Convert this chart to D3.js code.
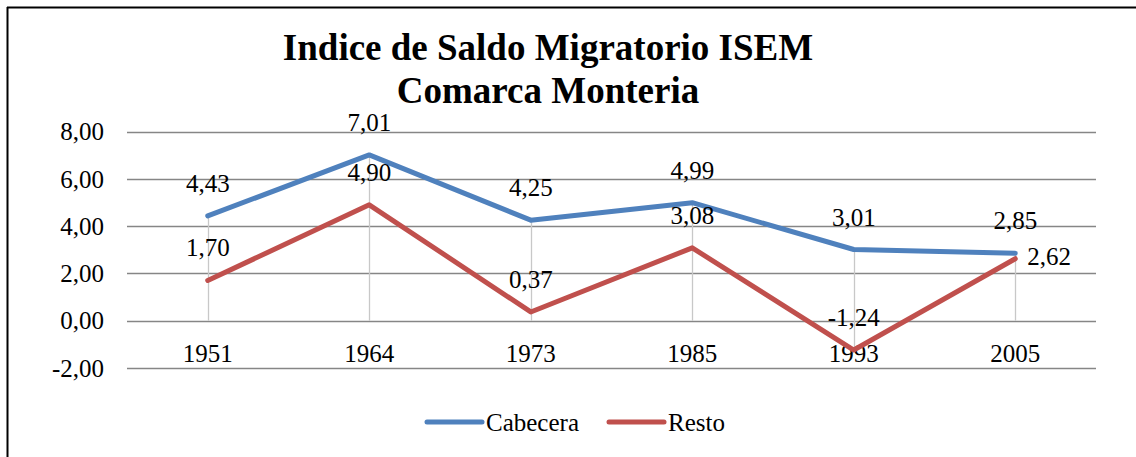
<!DOCTYPE html>
<html>
<head>
<meta charset="utf-8">
<script src="https://d3js.org/d3.v7.min.js"></script>
<style>
  body { margin: 0; background: #fff; }
  svg text { font-family: "Liberation Serif", "Times New Roman", serif; fill: #000; }
</style>
</head>
<body>
<div id="chart"></div>
<script>
// data
var years = ["1951", "1964", "1973", "1985", "1993", "2005"];
var cabecera = [4.43, 7.01, 4.25, 4.99, 3.01, 2.85];
var resto = [1.70, 4.90, 0.37, 3.08, -1.24, 2.62];
var yTicks = [-2, 0, 2, 4, 6, 8];
var titleLines = ["Indice de Saldo Migratorio ISEM", "Comarca Monteria"];

var width = 1136, height = 457;
var plot = { left: 127, right: 1096, top: 131.5, bottom: 368 };

var svg = d3.select("#chart").append("svg")
    .attr("width", width)
    .attr("height", height);

// chart frame (only top and left visible in crop)
svg.append("line").attr("x1", 7).attr("y1", 7.5).attr("x2", width).attr("y2", 7.5)
    .attr("stroke", "#000").attr("stroke-width", 2);
svg.append("line").attr("x1", 7.5).attr("y1", 7).attr("x2", 7.5).attr("y2", height)
    .attr("stroke", "#000").attr("stroke-width", 2);

var x = d3.scaleBand().domain(years).range([plot.left, plot.right]);
var y = d3.scaleLinear().domain([-2, 8]).range([plot.bottom, plot.top]);
var cx = function (d) { return x(d) + x.bandwidth() / 2; };

// title
svg.append("text")
    .attr("x", 548).attr("y", 60)
    .attr("text-anchor", "middle")
    .style("font-size", "37px").style("font-weight", "bold")
    .selectAll("tspan").data(titleLines).enter().append("tspan")
    .attr("x", 548).attr("dy", function (d, i) { return i ? 43 : 0; })
    .text(function (d) { return d; });

// horizontal gridlines
svg.append("g").selectAll("line").data(yTicks).enter().append("line")
    .attr("x1", plot.left).attr("x2", plot.right)
    .attr("y1", function (d) { return Math.round(y(d)) + 0.5; })
    .attr("y2", function (d) { return Math.round(y(d)) + 0.5; })
    .attr("stroke", "#868686").attr("stroke-width", 1.3);

// comma decimals, plain hyphen for negatives
var fmt = function (v) { return d3.format(".2f")(v).replace(".", ",").replace("\u2212", "-"); };

// y tick labels
svg.append("g").selectAll("text").data(yTicks).enter().append("text")
    .attr("x", 104).attr("y", function (d) { return y(d); })
    .attr("dy", "0.35em")
    .attr("text-anchor", "end")
    .style("font-size", "25px")
    .text(function (d) { return fmt(d); });

// drop lines
svg.append("g").selectAll("line").data(years).enter().append("line")
    .attr("x1", function (d) { return Math.round(cx(d)) + 0.5; })
    .attr("x2", function (d) { return Math.round(cx(d)) + 0.5; })
    .attr("y1", function (d, i) { return y(Math.max(0, cabecera[i], resto[i])); })
    .attr("y2", function (d, i) { return y(Math.min(0, cabecera[i], resto[i])); })
    .attr("stroke", "#c8c8c8").attr("stroke-width", 1.3);

// category labels
svg.append("g").selectAll("text").data(years).enter().append("text")
    .attr("x", cx).attr("y", 362)
    .attr("text-anchor", "middle")
    .style("font-size", "25px")
    .text(function (d) { return d; });

var series = [
    { name: "Cabecera", values: cabecera, color: "#4f81bd" },
    { name: "Resto", values: resto, color: "#c0504d" }
];

var line = d3.line()
    .x(function (d) { return cx(d.year); })
    .y(function (d) { return y(d.v); });

series.forEach(function (s) {
    var pts = years.map(function (yr, i) { return { year: yr, v: s.values[i] }; });
    svg.append("path").datum(pts)
        .attr("d", line)
        .attr("fill", "none")
        .attr("stroke", s.color)
        .attr("stroke-width", 5)
        .attr("stroke-linejoin", "round")
        .attr("stroke-linecap", "round");
});

// data labels (last Resto label sits to the right)
series.forEach(function (s, si) {
    var right = function (i) { return si === 1 && i === years.length - 1; };
    svg.append("g").selectAll("text").data(years).enter().append("text")
        .attr("x", function (d, i) { return right(i) ? cx(d) + 12 : cx(d); })
        .attr("y", function (d, i) { return right(i) ? y(s.values[i]) + 6 : y(s.values[i]) - 24; })
        .attr("text-anchor", function (d, i) { return right(i) ? "start" : "middle"; })
        .style("font-size", "25px")
        .text(function (d, i) { return fmt(s.values[i]); });
});

// legend
var legend = svg.append("g");
var legendItems = [
    { s: series[0], x: 427 },
    { s: series[1], x: 609 }
];
legendItems.forEach(function (it) {
    legend.append("line")
        .attr("x1", it.x).attr("x2", it.x + 55)
        .attr("y1", 422).attr("y2", 422)
        .attr("stroke", it.s.color).attr("stroke-width", 5)
        .attr("stroke-linecap", "round");
    legend.append("text")
        .attr("x", it.x + 59).attr("y", 422).attr("dy", "0.35em")
        .style("font-size", "25px")
        .text(it.s.name);
});
</script>
</body>
</html>
